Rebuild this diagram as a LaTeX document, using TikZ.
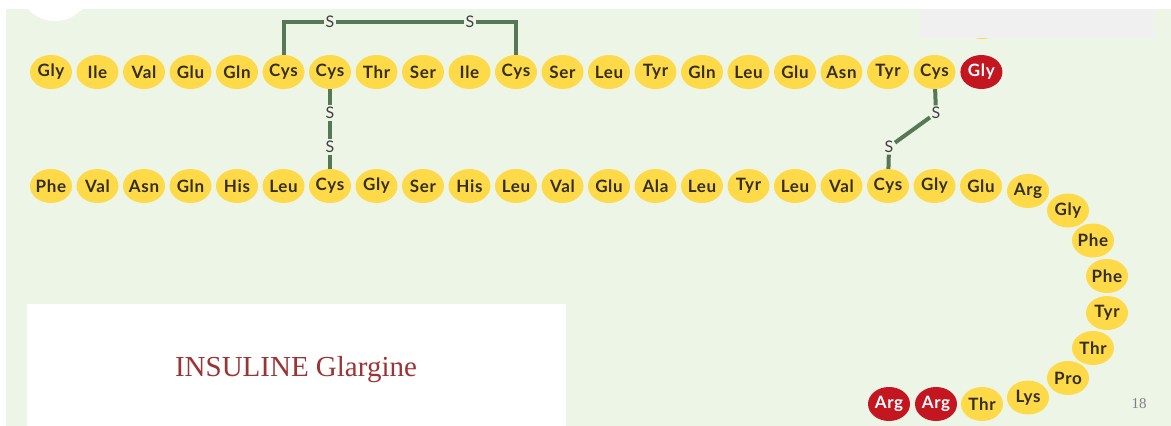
\documentclass[tikz,border=0pt]{standalone}
\usepackage{fontspec}
\setmainfont{Liberation Serif}
\setsansfont{Lato}[LetterSpace=4]
\usepackage{tikz}
\usetikzlibrary{shapes.geometric, positioning}

\definecolor{aaYellow}{RGB}{254,217,72}
\definecolor{aaRed}{RGB}{196,22,32}
\definecolor{aaText}{RGB}{52,46,30}
\definecolor{bondGreen}{RGB}{86,120,86}
\definecolor{bgGreen}{RGB}{237,245,230}
\definecolor{panelGray}{RGB}{240,240,240}
\definecolor{titleRed}{RGB}{155,52,52}

\begin{document}
\begin{tikzpicture}[x=1pt, y=1pt,
  res/.style={ellipse, fill=aaYellow, minimum width=42pt,
              minimum height=34pt, inner sep=-1pt, text=aaText,
              font=\sffamily\bfseries\fontsize{17}{17}\selectfont},
  rres/.style={res, fill=aaRed, text=white},
  sulf/.style={inner sep=1.5pt, text=black!75,
               font=\sffamily\fontsize{16}{16}\selectfont},
  bond/.style={draw=bondGreen, line width=4pt},
  node distance=4.5pt
]
  % - Nen -
  \useasboundingbox (0,0) rectangle (1171,-426);
  \fill[white] (0,0) rectangle (1171,-426);
  \fill[bgGreen] (6,-9) rectangle (1171,-426);
  \node[res] (hid) at (982,-22) {};
  \fill[panelGray] (920,-9) rectangle (1154,-38);
  \fill[white] (0,0) rectangle (1171,-9);
  \fill[white] (55,15.4) circle (36.4);

  % - Chuoi A (hang tren) -
  \foreach \aa [count=\i from 0] in {Gly,Ile,Val,Glu,Gln,Cys,Cys,Thr,Ser,Ile,
      Cys,Ser,Leu,Tyr,Gln,Leu,Glu,Asn,Tyr,Cys}
    \node[res] (a\i) at ({51+46.5*\i},-72) {\aa};
  \node[rres, right=of a19] (a20) {Gly};

  % - Chuoi B (hang duoi) -
  \foreach \aa [count=\i from 0] in {Phe,Val,Asn,Gln,His,Leu,Cys,Gly,Ser,His,
      Leu,Val,Glu,Ala,Leu,Tyr,Leu,Val,Cys,Gly,Glu}
    \node[res] (b\i) at ({51+46.5*\i},-186) {\aa};

  % - Duoi cong -
  \node[res]  (c1)  at (1028,-191)   {Arg};
  \node[res]  (c2)  at (1068,-210.5) {Gly};
  \node[res]  (c3)  at (1093,-240.5) {Phe};
  \node[res]  (c4)  at (1107,-276)   {Phe};
  \node[res]  (c5)  at (1107,-313)   {Tyr};
  \node[res]  (c6)  at (1093,-348)   {Thr};
  \node[res]  (c7)  at (1068,-378)   {Pro};
  \node[res]  (c8)  at (1028,-397.5) {Lys};
  \node[res]  (c9)  at (982,-404)    {Thr};
  \node[rres] (c10) at (936,-404)    {Arg};
  \node[rres] (c11) at (889,-404)    {Arg};

  % - Cau disulfua -
  \node[sulf] (s1) at (330,-22)  {S};
  \node[sulf] (s2) at (470,-22)  {S};
  \node[sulf] (s3) at (330,-113) {S};
  \node[sulf] (s4) at (330,-147) {S};
  \node[sulf] (s5) at (936,-113) {S};
  \node[sulf] (s6) at (889,-147) {S};

  \draw[bond] (a5.north) |- (s1.west);
  \draw[bond] (s1.east)  -- (s2.west);
  \draw[bond] (s2.east)  -| (a10.north);
  \draw[bond] (a6) -- (s3);
  \draw[bond] (s3) -- (s4);
  \draw[bond] (s4) -- (b6);
  \draw[bond] (a19) -- (s5);
  \draw[bond] (s5)  -- (s6);
  \draw[bond] (s6)  -- (b18);

  % - Nhan -
  \fill[white] (27,-304) rectangle (566,-426);
  \node[text=titleRed, font=\fontsize{29}{29}\selectfont] (name) at (296,-370)
    {INSULINE Glargine};
  \node[text=black!50, font=\fontsize{15}{15}\selectfont] (page) at (1139,-404) {18};
\end{tikzpicture}
\end{document}
